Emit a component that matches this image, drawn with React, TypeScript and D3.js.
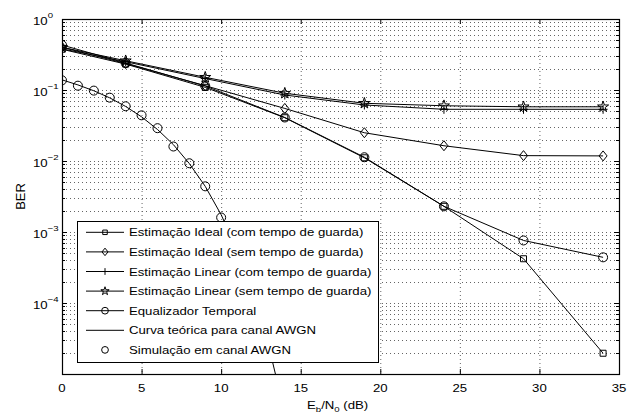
import React from 'react';
import * as d3 from 'd3';

// Eb/N0 points of the OFDM simulations
const snr = [0, 4, 9, 14, 19, 24, 29, 34];
const idealCom = [0.375, 0.232, 0.109, 0.0407, 0.0111, 0.0023, 0.00042, 0.0000196];
const idealSem = [0.4, 0.236, 0.115, 0.055, 0.025, 0.0164, 0.0119, 0.0118];
const linearCom = [0.38, 0.25, 0.145, 0.085, 0.0615, 0.0535, 0.0535, 0.0535];
const linearSem = [0.4, 0.258, 0.151, 0.09, 0.065, 0.06, 0.058, 0.058];
const equalizador = [0.43, 0.24, 0.114, 0.041, 0.0113, 0.0023, 0.00076, 0.00044];

// AWGN reference
const awgnSnr = [0, 1, 2, 3, 4, 5, 6, 7, 8, 9, 10];
const awgnSim = [0.137, 0.115, 0.098, 0.078, 0.059, 0.044, 0.029, 0.016, 0.0093, 0.0044, 0.0016];
const teoSnr = [0, 1, 2, 3, 4, 5, 6, 7, 8, 9, 10, 11, 12, 13, 14];
const teoBer = [0.139, 0.118, 0.0975, 0.0775, 0.0586, 0.0419, 0.0278, 0.017, 0.0092, 0.0044, 0.00175, 0.00057, 0.000139, 0.0000243, 0.0000028];

const xTicks = [0, 5, 10, 15, 20, 25, 30, 35];
const yDecades = [0, -1, -2, -3, -4, -5];

const legendLabels = [
  'Estimação Ideal (com tempo de guarda)',
  'Estimação Ideal (sem tempo de guarda)',
  'Estimação Linear (com tempo de guarda)',
  'Estimação Linear (sem tempo de guarda)',
  'Equalizador Temporal',
  'Curva teórica para canal AWGN',
  'Simulação em canal AWGN',
];

const W = 638, H = 415;
const left = 62, right = 619, top = 19, bottom = 374;
const font = 'Liberation Sans, Arial, Helvetica, sans-serif';
const SX = 1.2; // the figure was stretched horizontally

type Kind = 'square' | 'diamond' | 'plus' | 'star' | 'circle' | 'none';

function markerPath(kind: Kind, s: number): string {
  if (kind === 'square') return `M${-3 * s},${-3 * s}h${6 * s}v${6 * s}h${-6 * s}Z`;
  if (kind === 'diamond') return `M0,${-5 * s}L${4 * s},0L0,${5 * s}L${-4 * s},0Z`;
  if (kind === 'plus') return `M${-4.5 * s},0H${4.5 * s}M0,${-4.5 * s}V${4.5 * s}`;
  if (kind === 'star') return d3.symbol(d3.symbolStar, 38 * s * s)() || '';
  if (kind === 'circle') return d3.symbol(d3.symbolCircle, Math.PI * 4.5 * 4.5 * s * s)() || '';
  return '';
}

const T = ({ x, y, anchor = 'start', size = 11, children }: { x: number; y: number; anchor?: string; size?: number; children: React.ReactNode }) => (
  <text transform={`translate(${x},${y}) scale(${SX},1)`} textAnchor={anchor} fontFamily={font} fontSize={size} fill="#000">
    {children}
  </text>
);

export default function App() {
  const x = d3.scaleLinear().domain([0, 35]).range([left, right]);
  const y = d3.scaleLog().domain([1e-5, 1]).range([bottom, top]);

  const line = d3.line<[number, number]>().x(d => x(d[0])).y(d => y(d[1]));
  const zip = (xs: number[], ys: number[]) => xs.map((v, i) => [v, ys[i]] as [number, number]);

  const series: { kind: Kind; xs: number[]; ys: number[]; line: boolean }[] = [
    { kind: 'square', xs: snr, ys: idealCom, line: true },
    { kind: 'diamond', xs: snr, ys: idealSem, line: true },
    { kind: 'plus', xs: snr, ys: linearCom, line: true },
    { kind: 'star', xs: snr, ys: linearSem, line: true },
    { kind: 'circle', xs: snr, ys: equalizador, line: true },
    { kind: 'none', xs: teoSnr, ys: teoBer, line: true },
    { kind: 'circle', xs: awgnSnr, ys: awgnSim, line: false },
  ];

  const minor: number[] = [];
  for (let e = -5; e < 0; e++) for (let m = 2; m <= 9; m++) minor.push(m * Math.pow(10, e));

  const legX = 77, legY = 221, legW = 301, legH = 141, rowH = 19.6, row0 = 232.3;

  return (
    <svg width={W} height={H} style={{ position: 'absolute', left: 0, top: 0, background: '#fff' }}>
      <defs>
        <clipPath id="plot">
          <rect x={left} y={top} width={right - left} height={bottom - top} />
        </clipPath>
      </defs>
      <rect x={0} y={0} width={W} height={H} fill="#fff" />

      {/* grid */}
      <g stroke="#000" strokeWidth={1} strokeDasharray="1 3" opacity={0.6}>
        {xTicks.slice(1, -1).map(t => (
          <line key={'gx' + t} x1={x(t) + 0.5} x2={x(t) + 0.5} y1={top} y2={bottom} />
        ))}
        {yDecades.slice(1, -1).map(e => (
          <line key={'gy' + e} x1={left} x2={right} y1={Math.round(y(Math.pow(10, e))) + 0.5} y2={Math.round(y(Math.pow(10, e))) + 0.5} />
        ))}
        {minor.map((v, i) => (
          <line key={'gm' + i} x1={left} x2={right} y1={Math.round(y(v)) + 0.5} y2={Math.round(y(v)) + 0.5} />
        ))}
      </g>

      {/* ticks */}
      <g stroke="#000" strokeWidth={1}>
        {xTicks.map(t => (
          <g key={'tx' + t}>
            <line x1={x(t) + 0.5} x2={x(t) + 0.5} y1={bottom} y2={bottom - 5} />
            <line x1={x(t) + 0.5} x2={x(t) + 0.5} y1={top} y2={top + 5} />
          </g>
        ))}
        {yDecades.map(e => {
          const yy = Math.round(y(Math.pow(10, e))) + 0.5;
          return (
            <g key={'ty' + e}>
              <line x1={left} x2={left + 5} y1={yy} y2={yy} />
              <line x1={right} x2={right - 5} y1={yy} y2={yy} />
            </g>
          );
        })}
        {minor.map((v, i) => {
          const yy = Math.round(y(v)) + 0.5;
          return (
            <g key={'tm' + i}>
              <line x1={left} x2={left + 3} y1={yy} y2={yy} />
              <line x1={right} x2={right - 3} y1={yy} y2={yy} />
            </g>
          );
        })}
      </g>

      {/* data */}
      <g clipPath="url(#plot)" fill="none" stroke="#000" strokeWidth={1}>
        {series.map((s, i) => (
          <g key={'s' + i}>
            {s.line && <path d={line(zip(s.xs, s.ys)) || ''} />}
            {s.kind !== 'none' &&
              s.xs.map((v, j) => (
                <path key={j} d={markerPath(s.kind, 1)} transform={`translate(${x(v)},${y(s.ys[j])})`} />
              ))}
          </g>
        ))}
      </g>

      {/* axes box */}
      <rect x={left + 0.5} y={top + 0.5} width={right - left} height={bottom - top} fill="none" stroke="#000" strokeWidth={1.2} />

      {/* x tick labels */}
      {xTicks.map(t => (
        <T key={'lx' + t} x={x(t)} y={391.5} anchor="middle">{t}</T>
      ))}

      {/* y tick labels */}
      {yDecades.slice(0, -1).map(e => {
        const yy = y(Math.pow(10, e));
        return (
          <T key={'ly' + e} x={33} y={yy + 5.5}>
            10<tspan fontSize={8} dy={-6.5}>{e === 0 ? '0' : '−' + -e}</tspan>
          </T>
        );
      })}

      {/* axis titles */}
      <text fontFamily={font} fontSize={13} textAnchor="middle" transform={`translate(25,${(top + bottom) / 2}) rotate(-90)`}>BER</text>
      <T x={307} y={409}>
        E<tspan fontSize={8} dy={3}>b</tspan><tspan dy={-3}>/N</tspan><tspan fontSize={8} dy={3}>0</tspan><tspan dy={-3}> (dB)</tspan>
      </T>

      {/* legend */}
      <rect x={legX + 0.5} y={legY + 0.5} width={legW} height={legH} fill="#fff" stroke="#000" strokeWidth={1} />
      {legendLabels.map((lab, i) => {
        const s = series[i];
        const yy = row0 + i * rowH;
        return (
          <g key={'lg' + i}>
            {s.line && <line x1={86} x2={124} y1={yy} y2={yy} stroke="#000" strokeWidth={1} />}
            {s.kind !== 'none' && (
              <path d={markerPath(s.kind, 0.75)} transform={`translate(105,${yy})`} fill="none" stroke="#000" strokeWidth={1} />
            )}
            <T x={129} y={yy + 4}>{lab}</T>
          </g>
        );
      })}
    </svg>
  );
}
